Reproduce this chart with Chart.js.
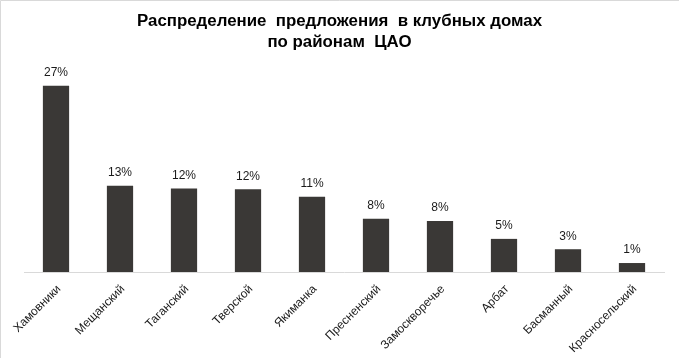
<!DOCTYPE html>
<html>
<head>
<meta charset="utf-8">
<script src="https://cdn.jsdelivr.net/npm/chart.js@4/dist/chart.umd.min.js"></script>
<style>
html,body{margin:0;padding:0;background:#fff;}
#wrap{width:679px;height:358px;position:relative;}
</style>
</head>
<body>
<div id="wrap"><canvas id="c" width="679" height="358"></canvas></div>
<script>
const titleLines = ['Распределение  предложения  в клубных домах', 'по районам  ЦАО'];
const categories = ['Хамовники','Мещанский','Таганский','Тверской','Якиманка','Пресненский','Замоскворечье','Арбат','Басманный','Красносельский'];
const shares = [27, 12.5, 12.1, 12.0, 10.9, 7.7, 7.4, 4.8, 3.3, 1.3];
const shareLabels = ['27%','13%','12%','12%','11%','8%','8%','5%','3%','1%'];

const frameAndTitle = {
  id: 'frameAndTitle',
  beforeDraw(chart) {
    const ctx = chart.ctx;
    ctx.save();
    ctx.fillStyle = '#fff';
    ctx.fillRect(0, 0, chart.width, chart.height);
    ctx.strokeStyle = '#d9d9d9';
    ctx.lineWidth = 1;
    ctx.beginPath();
    ctx.moveTo(0.5, chart.height);
    ctx.lineTo(0.5, 0.5);
    ctx.lineTo(chart.width, 0.5);
    ctx.stroke();
    ctx.fillStyle = '#000';
    ctx.font = 'bold 16px "Liberation Sans", Arial, sans-serif';
    ctx.textAlign = 'center';
    ctx.textBaseline = 'alphabetic';
    const w = ctx.measureText(titleLines[0]).width;
    const sx = 405 / w;
    ctx.translate(339.5, 0);
    ctx.scale(sx, 1);
    ctx.fillText(titleLines[0], 0, 26);
    ctx.fillText(titleLines[1], 0, 46.5);
    ctx.restore();
  }
};

const valueLabels = {
  id: 'valueLabels',
  afterDatasetsDraw(chart) {
    const ctx = chart.ctx;
    const meta = chart.getDatasetMeta(0);
    ctx.save();
    ctx.fillStyle = '#1a1a1a';
    ctx.font = '12px "Liberation Sans", Arial, sans-serif';
    ctx.textAlign = 'center';
    ctx.textBaseline = 'middle';
    meta.data.forEach((bar, i) => {
      ctx.fillText(shareLabels[i], bar.x, bar.y - 13);
    });
    ctx.restore();
  }
};

new Chart(document.getElementById('c'), {
  type: 'bar',
  data: {
    labels: categories,
    datasets: [{
      data: shares,
      backgroundColor: '#3a3836',
      borderWidth: 0,
      categoryPercentage: 1.0,
      barPercentage: 0.41
    }]
  },
  options: {
    responsive: false,
    animation: false,
    layout: { padding: { top: 65, left: 24, right: 15, bottom: 0 } },
    plugins: { legend: { display: false }, title: { display: false }, tooltip: { enabled: false } },
    scales: {
      y: { display: false, min: 0, max: 30 },
      x: {
        grid: { display: false },
        border: { display: true, color: '#d9d9d9', width: 1 },
        ticks: {
          color: '#1a1a1a',
          font: { family: '"Liberation Sans", Arial, sans-serif', size: 12 },
          minRotation: 45, maxRotation: 45, autoSkip: false, padding: 2, labelOffset: 3
        },
        afterFit(scale) { scale.height = 86; }
      }
    }
  },
  plugins: [frameAndTitle, valueLabels]
});
</script>
</body>
</html>
